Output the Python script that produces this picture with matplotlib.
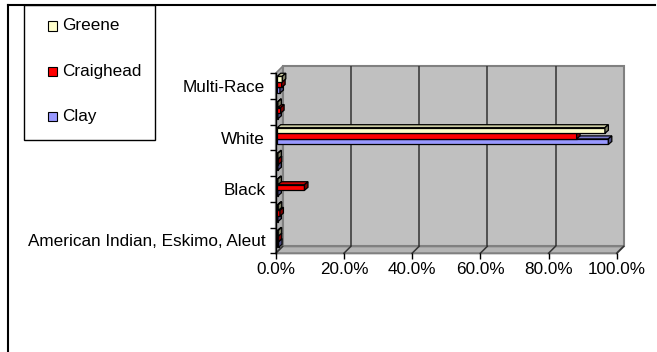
import matplotlib
matplotlib.use("Agg")
import matplotlib.pyplot as plt
from matplotlib.patches import Rectangle, Polygon
from matplotlib.lines import Line2D
from matplotlib.colors import to_rgb

plt.rcParams['font.family'] = ['Liberation Sans', 'DejaVu Sans']

# Share of population by race, bottom category first
categories = ["American Indian, Eskimo, Aleut", "", "Black", "", "White", "", "Multi-Race"]
series = ["Clay", "Craighead", "Greene"]
clay = [0.004, 0.002, 0.002, 0.002, 0.971, 0.002, 0.008]
craighead = [0.003, 0.008, 0.080, 0.003, 0.878, 0.010, 0.013]
greene = [0.003, 0.003, 0.002, 0.002, 0.961, 0.002, 0.015]
values = [clay, craighead, greene]
colors = ["#9999FF", "#FF0000", "#FFFFCC"]
xticks = [0.0, 0.2, 0.4, 0.6, 0.8, 1.0]
xtick_labels = ["0.0%", "20.0%", "40.0%", "60.0%", "80.0%", "100.0%"]

FS = 12.3
W, H = 657, 352
fig = plt.figure(figsize=(W / 100, H / 100), dpi=100)
ax_l, ax_b, ax_w, ax_h = 275.7, 98.7, 341.0, 180.0
ax = fig.add_axes([ax_l / W, ax_b / H, ax_w / W, ax_h / H])
n = len(categories)
ax.set_xlim(0, 1)
ax.set_ylim(0, n)

# pixel -> data unit conversion for the depth effect
px_x = 1.0 / ax_w
px_y = n / ax_h
wall_dx, wall_dy = 7 * px_x, 7 * px_y

wall_c = "#C0C0C0"
edge_c = "#808080"

# back wall
ax.add_patch(Rectangle((wall_dx, wall_dy), 1, n, facecolor=wall_c,
                       edgecolor=edge_c, lw=1.5, zorder=1, clip_on=False))
# left wall
ax.add_patch(Polygon([(0, 0), (0, n), (wall_dx, n + wall_dy), (wall_dx, wall_dy)],
                     closed=True, facecolor="#B0B0B0", edgecolor=edge_c, lw=1.2,
                     zorder=1.1, clip_on=False))
# floor
ax.add_patch(Polygon([(0, 0), (1, 0), (1 + wall_dx, wall_dy), (wall_dx, wall_dy)],
                     closed=True, facecolor="#B4B4B4", edgecolor=edge_c, lw=1.5,
                     zorder=1.1, clip_on=False))
# gridlines on wall and floor
for t in xticks[1:-1]:
    ax.plot([t + wall_dx, t + wall_dx], [wall_dy, n + wall_dy], color="#333333",
            lw=1.1, zorder=1.2, solid_capstyle="butt", clip_on=False)
for t in xticks:
    ax.plot([t, t + wall_dx], [0, wall_dy], color="#333333", lw=1.1, zorder=1.2,
            clip_on=False)

# 3D bars
bar_h = 5.6 * px_y
off_x, off_y = 1.5 * px_x, 1.5 * px_y
dep_x, dep_y = 3.5 * px_x, 3.0 * px_y


def shade(c, f):
    r, g, b = to_rgb(c)
    return (r * f, g * f, b * f)


z = 2.0
for i in range(n):
    for j in range(len(series)):
        v = values[j][i]
        c = colors[j]
        x0 = off_x
        y0 = i + 0.5 + (j - 1.5) * bar_h + off_y
        x1 = x0 + v
        y1 = y0 + bar_h
        ax.add_patch(Rectangle((x0, y0), v, bar_h, facecolor=c, edgecolor="black",
                               lw=0.9, zorder=z, clip_on=False))
        ax.add_patch(Polygon([(x0, y1), (x1, y1), (x1 + dep_x, y1 + dep_y), (x0 + dep_x, y1 + dep_y)],
                             closed=True, facecolor=shade(c, 0.8), edgecolor="black",
                             lw=0.9, zorder=z, clip_on=False))
        ax.add_patch(Polygon([(x1, y0), (x1 + dep_x, y0 + dep_y), (x1 + dep_x, y1 + dep_y), (x1, y1)],
                             closed=True, facecolor=shade(c, 0.5), edgecolor="black",
                             lw=0.9, zorder=z, clip_on=False))
        z += 0.01

# axes styling
for s in ["top", "right", "bottom"]:
    ax.spines[s].set_visible(False)
ax.spines["left"].set_color("black")
ax.spines["left"].set_linewidth(1.0)
ax.spines["left"].set_zorder(3)
ax.set_facecolor("none")

ax.set_xticks(xticks)
ax.set_xticklabels(xtick_labels)
ax.tick_params(axis="x", length=4, width=1, color="black", pad=2, labelsize=FS)

ax.set_yticks(range(n + 1))
ax.set_yticklabels([])
ax.set_yticks([i + 0.5 for i in range(n)], minor=True)
ax.set_yticklabels(categories, minor=True)
ax.tick_params(axis="y", which="major", length=4, width=1, color="black")
ax.tick_params(axis="y", which="minor", length=0, pad=7.5, labelsize=FS)

# chart frame (top and left edges)
fig.add_artist(Line2D([8 / W, 8 / W], [0, 1 - 5 / H], color="black", lw=1.5,
                      transform=fig.transFigure))
fig.add_artist(Line2D([8 / W, 655 / W], [1 - 5 / H, 1 - 5 / H], color="black", lw=1.5,
                      transform=fig.transFigure))

# legend, top entry first
fig.add_artist(Rectangle((24 / W, 1 - 140 / H), 131 / W, 135 / H, facecolor="white",
                         edgecolor="black", lw=1.0, transform=fig.transFigure))
legend_y = [26, 71.5, 116.5]
for name, c, ly in zip(series[::-1], colors[::-1], legend_y):
    fig.add_artist(Rectangle((47.5 / W, 1 - (ly + 4.5) / H), 9.5 / W, 9.5 / H, facecolor=c,
                             edgecolor="black", lw=0.8, transform=fig.transFigure))
    fig.text(62 / W, 1 - ly / H, name, fontsize=FS, va="center", ha="left")

fig.savefig("out.png", dpi=100)
